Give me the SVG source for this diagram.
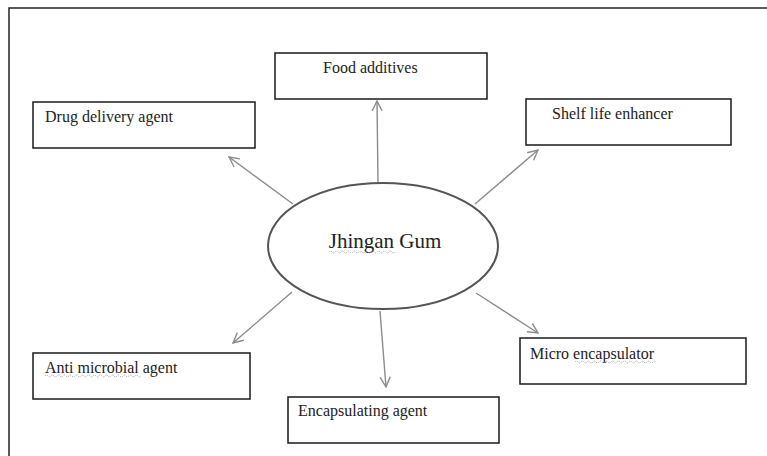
<svg xmlns="http://www.w3.org/2000/svg" width="767" height="456" viewBox="0 0 767 456">
<style>
.box{fill:#fff;stroke:#1a1a1a;stroke-width:1.5}
.lbl{font-family:"Liberation Serif","Times New Roman",serif;font-size:16px;fill:#222}
.con{stroke:#8c8c8c;stroke-width:1.4;fill:none;marker-end:url(#ah)}
.sq{fill:none;stroke:#9a9a9a;stroke-width:0.8;stroke-dasharray:1.5 1}
</style>
<defs>
<marker id="ah" viewBox="0 0 12 12" refX="11" refY="6" markerWidth="12" markerHeight="12" markerUnits="userSpaceOnUse" orient="auto">
<path d="M1,1 L11,6 L1,11" fill="none" stroke="#8c8c8c" stroke-width="1.4"/>
</marker>
</defs>
<rect width="767" height="456" fill="#fff"/>
<path d="M9,456 V8 H767" fill="none" stroke="#222" stroke-width="1.5"/>
<g id="connectors">
<line class="con" x1="378" y1="183" x2="377" y2="101"/>
<line class="con" x1="293" y1="204" x2="229" y2="157"/>
<line class="con" x1="475" y1="204" x2="538" y2="150"/>
<line class="con" x1="292" y1="292" x2="233" y2="343"/>
<line class="con" x1="380" y1="311" x2="386" y2="387"/>
<line class="con" x1="476" y1="293" x2="538" y2="333"/>
</g>
<g id="center">
<ellipse cx="383" cy="246" rx="115" ry="63" fill="#fff" stroke="#555" stroke-width="2"/>
<text x="385" y="248" text-anchor="middle" style="font-family:'Liberation Serif','Times New Roman',serif;font-size:21px;fill:#222">Jhingan Gum</text>
<path class="sq" d="M329,252 q1.5,-2 3,0 t3,0 t3,0 t3,0 t3,0 t3,0 t3,0 t3,0 t3,0 t3,0 t3,0 t3,0 t3,0 t3,0 t3,0 t3,0 t3,0 t3,0 t3,0 t3,0 t3,0 t3,0"/>
</g>
<g id="food">
<rect class="box" x="275" y="53" width="212" height="46"/>
<text class="lbl" x="323" y="73">Food additives</text>
</g>
<g id="drug">
<rect class="box" x="33" y="102" width="222" height="46"/>
<text class="lbl" x="45" y="122">Drug delivery agent</text>
</g>
<g id="shelf">
<rect class="box" x="526" y="99" width="205" height="46"/>
<text class="lbl" x="552" y="119">Shelf life enhancer</text>
</g>
<g id="anti">
<rect class="box" x="33" y="353" width="217" height="46"/>
<text class="lbl" x="45" y="373">Anti microbial agent</text>
<path class="sq" d="M45,376 q1.5,-2 3,0 t3,0 t3,0 t3,0 t3,0 t3,0 t3,0 t3,0 t3,0 t3,0 t3,0 t3,0 t3,0 t3,0 t3,0 t3,0 t3,0 t3,0 t3,0 t3,0 t3,0 t3,0 t3,0 t3,0 t3,0 t3,0 t3,0 t3,0 t3,0 t3,0 t3,0 t3,0"/>
</g>
<g id="encap">
<rect class="box" x="288" y="397" width="211" height="46"/>
<text class="lbl" x="298" y="416">Encapsulating agent</text>
</g>
<g id="micro">
<rect class="box" x="520" y="338" width="226" height="46"/>
<text class="lbl" x="530" y="359">Micro encapsulator</text>
<path class="sq" d="M575,362 q1.5,-2 3,0 t3,0 t3,0 t3,0 t3,0 t3,0 t3,0 t3,0 t3,0 t3,0 t3,0 t3,0 t3,0 t3,0 t3,0 t3,0 t3,0 t3,0 t3,0 t3,0 t3,0 t3,0 t3,0 t3,0 t3,0 t3,0 t3,0"/>
</g>
</svg>
